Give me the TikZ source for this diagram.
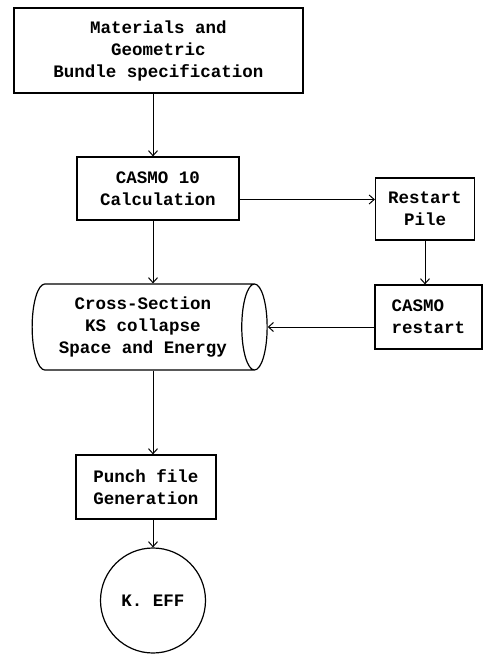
\documentclass[tikz,border=0pt]{standalone}
\usepackage{fontspec}
\setmonofont{Liberation Mono}
\usetikzlibrary{arrows.meta,shapes.geometric,calc}

\tikzset{
  box/.style={draw=black, line width=1.2pt, rectangle, inner sep=0pt, align=center},
  flow/.style={black, line width=1pt, -{Straight Barb[length=5pt,width=9pt]}}
}

\begin{document}
\begin{tikzpicture}[x=1pt, y=-1pt, font=\ttfamily\bfseries\fontsize{17.5}{22}\selectfont]
  \useasboundingbox (0,0) rectangle (483,654);
  % Draw the boxes of the main column
  \node[box, minimum width=289pt, minimum height=85pt] (spec) at (158.5,50.5) {Materials and\\Geometric\\Bundle specification};
  \node[box, minimum width=162pt, minimum height=63pt] (cas10) at (158,188.5) {CASMO 10\\Calculation};
  \node[draw=black, line width=1.2pt, cylinder, shape border rotate=0, aspect=0.42, minimum width=86pt, minimum height=235pt, inner sep=0pt, align=center] (xs) at (143,327) {Cross-Section\\KS collapse\\Space and Energy};
  \node[box, minimum width=140pt, minimum height=64pt] (punch) at (146,487) {Punch file\\Generation};
  \node[draw=black, line width=1.2pt, circle, minimum size=105pt, inner sep=0pt] (keff) at (153,600.5) {K. EFF};
  % Draw the restart branch
  \node[box, minimum width=99pt, minimum height=62pt] (restart) at (425,209) {Restart\\Pile};
  \node[box, minimum width=107pt, minimum height=64pt, align=left] (crest) at (428.5,317) {CASMO\\restart};
  % Draw the arrows
  \draw[flow] (spec.south -| keff) -- (cas10.north -| keff);
  \draw[flow] ([yshift=-11pt]cas10.east) -- ([yshift=-11pt]cas10.east -| restart.west);
  \draw[flow] (restart.south) -- (restart.south |- crest.north);
  \draw[flow] (crest.west |- xs.east) -- (xs.east);
  \draw[flow] (cas10.south -| keff) -- (xs.north -| keff);
  \draw[flow] (xs.south -| keff) -- (punch.north -| keff);
  \draw[flow] (punch.south -| keff) -- (keff);
\end{tikzpicture}
\end{document}
